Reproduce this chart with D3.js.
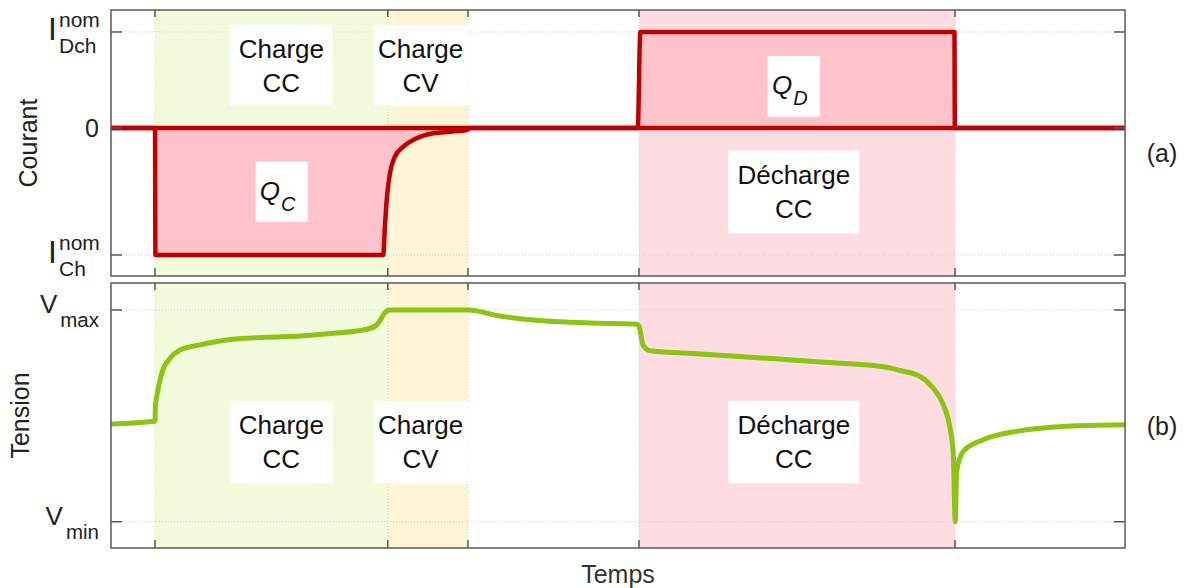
<!DOCTYPE html>
<html><head><meta charset="utf-8">
<script src="https://cdn.jsdelivr.net/npm/d3@7"></script>
<style>body{margin:0;background:#fff;} text{font-family:Arial,"Liberation Sans",sans-serif;}</style>
</head><body>
<svg id="c" width="1186" height="588"></svg>
<script>
// ---------- data ----------
const phaseBounds = [4.34, 27.3, 35.2, 52.07, 83.24];         // time of phase boundaries
const phaseStart = [4.34, 27.3, 52.07];
const phaseEnd   = [27.3, 35.2, 83.24];
const phaseNames = [["Charge","CC"],["Charge","CV"],["Décharge","CC"]];
const phaseColors = ["#f2fbdc","#fef4d6","#ffdce1"];

const currentTime  = [0, 4.34, 4.38, 26.85, 27.0, 27.19, 27.51, 28.0, 28.83, 30.15, 31.79, 33.43, 35.08, 35.2, 35.22, 51.95, 52.2, 83.18, 83.22, 100];
const currentValue = [0, 0, -1.323, -1.323, -1.05, -0.75, -0.472, -0.299, -0.195, -0.107, -0.055, -0.039, -0.021, -0.015, 0, 0, 1, 1, 0, 0];

const voltageTime  = [0, 4.34, 4.38, 4.51, 5.0, 5.82, 6.80, 8.78, 11.41, 15.36, 18.64, 21.92, 25.22, 26.2, 27.19, 27.52, 35.21, 38.36, 41.62, 48.22, 51.84, 52.07, 52.17, 52.47, 53.16, 58.09, 64.66, 71.2, 76.5, 77.81, 79.78, 81.07, 82.08, 82.74, 83.07, 83.26, 83.4, 84.05, 86.03, 89.32, 94.25, 100];
const voltageValue = [3.554, 3.569, 3.661, 3.709, 3.841, 3.926, 3.973, 4.002, 4.030, 4.045, 4.053, 4.068, 4.091, 4.115, 4.194, 4.2, 4.2, 4.166, 4.143, 4.125, 4.119, 4.109, 4.087, 4.002, 3.969, 3.951, 3.926, 3.901, 3.875, 3.857, 3.824, 3.758, 3.663, 3.531, 3.380, 3.0, 3.286, 3.399, 3.465, 3.512, 3.541, 3.550];

const currentTicks = [1, 0, -1.323];
const currentTickLabels = [["I","nom","Dch"],["0"],["I","nom","Ch"]];
const voltageTicks = [4.2, 3.0];
const voltageTickLabels = [["V","max"],["V","min"]];

// ---------- layout ----------
const svg = d3.select("#c");
const L = 111, R = 1125;
const top1 = 10, bot1 = 276, top2 = 283, bot2 = 548;
const x  = d3.scaleLinear().domain([0,100]).range([L,R]);
const yI = d3.scaleLinear().domain([-1.542,1.229]).range([bot1,top1]);
const yV = d3.scaleLinear().domain([2.851,4.353]).range([bot2,top2]);

const defs = svg.append("defs");
[[top1,bot1,"c1"],[top2,bot2,"c2"]].forEach(([t,b,id])=>{
  defs.append("clipPath").attr("id",id).append("rect").attr("x",L).attr("y",t).attr("width",R-L).attr("height",b-t);
});

function panel(t, b) {
  const g = svg.append("g");
  g.selectAll("rect.ph").data(phaseStart).enter().append("rect")
    .attr("x",(d)=>x(d)).attr("y",t)
    .attr("width",(d,i)=>x(phaseEnd[i])-x(d)).attr("height",b-t)
    .attr("fill",(d,i)=>phaseColors[i]);
  g.selectAll("line.vg").data(phaseBounds).enter().append("line")
    .attr("x1",d=>x(d)).attr("x2",d=>x(d)).attr("y1",t).attr("y2",b)
    .attr("stroke","#cfcfcf").attr("stroke-width",1).attr("stroke-dasharray","1,2");
  return g;
}

function frame(t, b, yscale, ticks) {
  const g = svg.append("g");
  phaseBounds.forEach(d=>{
    g.append("line").attr("x1",x(d)).attr("x2",x(d)).attr("y1",t).attr("y2",t+7).attr("stroke","#555").attr("stroke-width",1.5);
    g.append("line").attr("x1",x(d)).attr("x2",x(d)).attr("y1",b).attr("y2",b-8).attr("stroke","#555").attr("stroke-width",1.5);
  });
  ticks.forEach(v=>{
    g.append("line").attr("x1",L).attr("x2",L+11).attr("y1",yscale(v)).attr("y2",yscale(v)).attr("stroke","#555").attr("stroke-width",1.5);
    g.append("line").attr("x1",R-11).attr("x2",R).attr("y1",yscale(v)).attr("y2",yscale(v)).attr("stroke","#555").attr("stroke-width",1.5);
  });
  g.append("rect").attr("x",L).attr("y",t).attr("width",R-L).attr("height",b-t)
    .attr("fill","none").attr("stroke","#5a5a5a").attr("stroke-width",1.5);
}

function hgrid(g, yscale, ticks) {
  g.selectAll("line.hg").data(ticks).enter().append("line")
    .attr("x1",L).attr("x2",R).attr("y1",d=>yscale(d)).attr("y2",d=>yscale(d))
    .attr("stroke","#cfcfcf").attr("stroke-width",1).attr("stroke-dasharray","1,2");
}

function box(g, x0, x1, y0, y1, lines, fs) {
  g.append("rect").attr("x",x0).attr("y",y0).attr("width",x1-x0).attr("height",y1-y0).attr("fill","#fff");
  const cx = (x0+x1)/2, cy=(y0+y1)/2;
  lines.forEach((s,i)=>{
    g.append("text").attr("x",cx).attr("y",cy + (i-0.5)*34 + 9).attr("text-anchor","middle")
      .attr("font-size",fs).attr("fill","#111").text(s);
  });
}

// ---------- top panel: current ----------
const g1 = panel(top1, bot1);
hgrid(g1, yI, currentTicks);
const pts1 = currentTime.map((t,i)=>[t,currentValue[i]]);
g1.append("path").datum(pts1).attr("clip-path","url(#c1)")
  .attr("d", d3.area().x(d=>x(d[0])).y0(yI(0)).y1(d=>yI(d[1])).curve(d3.curveMonotoneX))
  .attr("fill","#ffc4cb");
g1.append("line").attr("x1",L).attr("x2",R).attr("y1",yI(0)).attr("y2",yI(0))
  .attr("stroke","#c00000").attr("stroke-width",4.5);
g1.append("path").datum(pts1).attr("clip-path","url(#c1)")
  .attr("d", d3.line().x(d=>x(d[0])).y(d=>yI(d[1])).curve(d3.curveMonotoneX))
  .attr("fill","none").attr("stroke","#c00000").attr("stroke-width",4.5).attr("stroke-linejoin","round");

box(g1, 230, 332.7, 25, 106, phaseNames[0], 26);
box(g1, 373.3, 468, 25, 106, phaseNames[1], 26);
box(g1, 728.3, 859.3, 150.7, 233.3, phaseNames[2], 26);
function qbox(g, x0,x1,y0,y1, sub) {
  g.append("rect").attr("x",x0).attr("y",y0).attr("width",x1-x0).attr("height",y1-y0).attr("fill","#fff");
  const t = g.append("text").attr("x",(x0+x1)/2 - 4).attr("y",(y0+y1)/2+8).attr("text-anchor","middle")
    .attr("font-size",26).attr("font-style","italic").attr("fill","#111");
  t.append("tspan").text("Q");
  t.append("tspan").attr("font-size",20).attr("dy",11).attr("dx",1).text(sub);
}
qbox(g1, 255.7, 307.7, 161.7, 221.7, "C");
qbox(g1, 767.7, 820, 56, 116.7, "D");
frame(top1, bot1, yI, currentTicks);

// ---------- bottom panel: voltage ----------
const g2 = panel(top2, bot2);
hgrid(g2, yV, voltageTicks);
box(g2, 230, 332.7, 401, 483.3, phaseNames[0], 26);
box(g2, 373.3, 468, 401, 483.3, phaseNames[1], 26);
box(g2, 728.3, 859.3, 401, 483.3, phaseNames[2], 26);
const pts2 = voltageTime.map((t,i)=>[t,voltageValue[i]]);
g2.append("path").datum(pts2).attr("clip-path","url(#c2)")
  .attr("d", d3.line().x(d=>x(d[0])).y(d=>yV(d[1])).curve(d3.curveMonotoneX))
  .attr("fill","none").attr("stroke","#8cc414").attr("stroke-width",5).attr("stroke-linejoin","round");
frame(top2, bot2, yV, voltageTicks);

// ---------- tick labels ----------
const tl = svg.append("g").attr("fill","#222");
currentTicks.forEach((v,i)=>{
  const lab = currentTickLabels[i], y = yI(v);
  if (lab.length === 1) {
    tl.append("text").attr("x",99).attr("y",y+9).attr("text-anchor","end").attr("font-size",25).text(lab[0]);
  } else {
    tl.append("text").attr("x",57).attr("y",y+8).attr("text-anchor","end").attr("font-size",32).text(lab[0]);
    tl.append("text").attr("x",59).attr("y",y-5).attr("font-size",21).text(lab[1]);
    tl.append("text").attr("x",59).attr("y",y+21).attr("font-size",21).text(lab[2]);
  }
});
voltageTicks.forEach((v,i)=>{
  const lab = voltageTickLabels[i], y = yV(v);
  const t = tl.append("text").attr("x",99).attr("y",y+3).attr("text-anchor","end").attr("font-size",26);
  t.append("tspan").text(lab[0]);
  t.append("tspan").attr("font-size",20.5).attr("dy",14).attr("dx",3).text(lab[1]);
});

// ---------- axis titles ----------
svg.append("text").attr("transform",`translate(37,${(top1+bot1)/2}) rotate(-90)`).attr("text-anchor","middle")
  .attr("font-size",25).attr("fill","#222").text("Courant");
svg.append("text").attr("transform",`translate(29,${(top2+bot2)/2}) rotate(-90)`).attr("text-anchor","middle")
  .attr("font-size",25).attr("fill","#222").text("Tension");
svg.append("text").attr("x",(L+R)/2).attr("y",583).attr("text-anchor","middle")
  .attr("font-size",25).attr("fill","#333").text("Temps");
svg.append("text").attr("x",1162).attr("y",162).attr("text-anchor","middle").attr("font-size",25).attr("fill","#222").text("(a)");
svg.append("text").attr("x",1162).attr("y",435).attr("text-anchor","middle").attr("font-size",25).attr("fill","#222").text("(b)");
</script>
</body></html>
